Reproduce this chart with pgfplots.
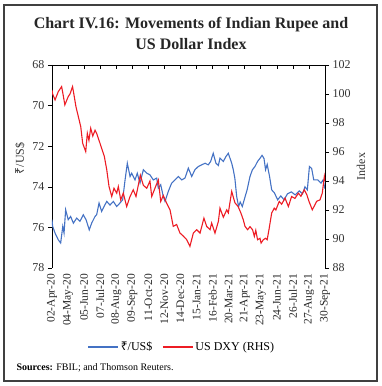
\documentclass[border=0pt]{standalone}
\usepackage{pgfplots}
\pgfplotsset{compat=1.18}
\usepackage{fontspec}
\setmainfont{Liberation Serif}
\newfontfamily\rupeefont{Noto Sans}
\newcommand{\rupee}{{\rupeefont ₹}}
\definecolor{inrblue}{RGB}{68,114,196}
\definecolor{dxyred}{RGB}{237,28,36}
\pgfplotstableread{
x y
0.00 75.62
0.04 75.95
0.19 76.28
0.39 76.61
0.54 76.77
0.67 75.95
0.75 76.28
0.85 75.13
1.01 75.62
1.16 75.46
1.33 75.79
1.54 75.54
1.74 75.70
1.95 75.38
2.12 75.62
2.32 76.12
2.47 75.79
2.68 75.46
2.78 75.38
2.93 74.80
3.09 75.21
3.24 74.97
3.41 74.72
3.61 74.90
3.82 74.72
4.03 74.97
4.23 74.80
4.40 74.64
4.55 73.66
4.69 72.84
4.86 73.49
4.96 73.33
5.17 73.66
5.31 73.33
5.48 73.82
5.69 73.16
5.90 73.33
6.10 73.41
6.31 73.66
6.52 73.57
6.62 74.07
6.77 73.90
6.93 74.48
7.04 74.72
7.24 74.23
7.45 73.82
7.66 73.66
7.87 73.49
8.08 73.66
8.28 73.57
8.49 73.08
8.70 73.49
8.90 73.16
9.11 73.00
9.32 72.92
9.53 72.84
9.73 72.92
9.88 72.75
10.04 72.35
10.21 72.84
10.36 72.95
10.46 72.59
10.67 72.75
10.83 72.51
10.98 72.35
11.19 72.84
11.29 73.16
11.39 73.60
11.50 74.48
11.62 74.97
11.72 74.75
11.85 74.97
12.02 74.50
12.15 74.15
12.33 73.49
12.48 73.16
12.64 73.00
12.80 72.75
12.95 72.60
13.08 72.45
13.20 72.60
13.30 73.16
13.40 72.90
13.55 73.50
13.68 74.15
13.85 74.30
14.05 74.64
14.25 74.45
14.45 74.64
14.66 74.35
14.90 74.25
15.15 74.40
15.40 74.20
15.60 74.35
15.75 74.00
15.90 74.15
16.03 73.00
16.17 73.10
16.30 73.66
16.55 73.66
16.75 73.82
16.88 73.66
17.00 74.10
}\inrtable
\pgfplotstableread{
x y
0.00 100.28
0.04 100.00
0.19 99.59
0.39 100.16
0.60 100.51
0.70 99.90
0.80 99.25
1.01 99.82
1.12 100.00
1.28 100.51
1.36 100.00
1.49 99.13
1.64 98.44
1.79 97.75
1.91 96.60
2.10 96.03
2.20 97.29
2.30 96.80
2.41 97.64
2.54 97.10
2.68 97.50
2.78 97.29
2.99 96.60
3.26 95.69
3.41 94.77
3.55 93.62
3.72 92.93
3.86 93.50
4.03 93.16
4.13 93.62
4.28 92.70
4.44 93.16
4.65 92.24
4.86 92.93
5.06 93.39
5.23 92.93
5.50 94.40
5.69 93.70
5.90 93.50
6.10 94.00
6.21 92.93
6.41 93.50
6.62 94.08
6.77 92.59
6.93 93.00
7.14 92.47
7.35 92.01
7.55 90.87
7.76 91.00
7.97 90.41
8.18 90.20
8.39 89.95
8.59 89.49
8.80 90.41
9.01 90.64
9.22 90.41
9.46 91.44
9.63 90.87
9.84 90.64
9.94 91.10
10.15 90.41
10.36 91.21
10.46 92.13
10.67 91.50
10.88 92.01
10.98 91.80
11.19 93.28
11.39 92.50
11.59 92.24
11.76 91.80
11.91 91.33
12.02 90.87
12.18 90.64
12.33 90.85
12.49 90.64
12.60 90.18
12.69 90.60
12.80 89.95
12.95 90.05
13.02 89.72
13.16 89.95
13.30 90.05
13.40 89.95
13.51 90.64
13.68 91.79
13.84 92.13
13.94 92.00
14.15 92.59
14.30 92.40
14.51 92.82
14.72 92.24
14.92 92.93
15.13 92.80
15.34 93.16
15.50 92.95
15.71 93.39
15.87 93.05
16.00 92.60
16.21 92.01
16.48 92.60
16.69 92.70
16.83 93.16
16.96 94.31
17.00 94.00
}\dxytable
\begin{document}
\begin{tikzpicture}[x=1pt,y=1pt]
\path[use as bounding box] (0,0) rectangle (382,386);
\draw[black!75, line width=1.2pt] (4,5) rectangle (377,381);
\node[align=center, font=\fontsize{16}{21}\selectfont\bfseries, text=black!85] at (191,353)
  {Chart IV.16: Movements of Indian Rupee and\\US Dollar Index};
\node[anchor=west, font=\fontsize{10}{12}\selectfont] at (13,18)
  {\textbf{Sources:} FBIL; and Thomson Reuters.};
\begin{axis}[
  at={(52pt,118pt)}, anchor=south west,
  scale only axis, width=273pt, height=203pt,
  xmin=0, xmax=17, ymin=68, ymax=78, y dir=reverse,
  axis x line*=bottom, axis y line*=left,
  x axis line style={draw=none},
  xtick={0,...,17},
  xticklabels={02-Apr-20,04-May-20,05-Jun-20,07-Jul-20,08-Aug-20,09-Sep-20,11-Oct-20,12-Nov-20,14-Dec-20,15-Jan-21,16-Feb-21,20-Mar-21,21-Apr-21,23-May-21,24-Jun-21,26-Jul-21,27-Aug-21,30-Sep-21},
  xticklabel style={rotate=90, anchor=east, font=\fontsize{11.5}{13}\selectfont, inner sep=2pt, text=black!85},
  major x tick style={draw=none},
  ytick={68,70,...,78},
  yticklabel style={font=\fontsize{12}{14}\selectfont, text=black!80},
  y tick style={black, line width=0.6pt},
  y axis line style={line width=0.6pt, -},
  tick align=outside, major tick length=4pt,
  /pgf/number format/assume math mode=true,
  ylabel={\rupee/US\$},
  ylabel style={at={(axis description cs:-0.117,0.54)}, anchor=center, font=\fontsize{12}{14}\selectfont, text=black!80},
]
\addplot[inrblue, line width=1.1pt] table[x=x,y=y] {\inrtable};
\end{axis}
\begin{axis}[
  at={(52pt,118pt)}, anchor=south west,
  scale only axis, width=273pt, height=203pt,
  xmin=0, xmax=17, ymin=88, ymax=102,
  axis x line*=top, axis y line*=right,
  xtick={0,...,17}, xticklabels={},
  x tick style={black, line width=0.6pt},
  x axis line style={line width=0.6pt, -},
  y axis line style={line width=0.6pt, -},
  y tick style={black, line width=0.6pt},
  xtick align=inside, ytick align=outside, major tick length=4pt,
  ytick={88,90,...,102},
  yticklabel style={font=\fontsize{12}{14}\selectfont, text=black!80},
  /pgf/number format/assume math mode=true,
  ylabel={Index},
  ylabel style={at={(axis description cs:1.132,0.50)}, anchor=center, font=\fontsize{12}{14}\selectfont, text=black!80},
  legend style={at={(axis description cs:0.476,-0.389)}, anchor=center, draw=none, fill=none,
    legend columns=2, font=\fontsize{12}{14}\selectfont,
    /tikz/every even column/.append style={column sep=8pt}},
  legend image code/.code={\draw[#1] (0pt,0pt) -- (30pt,0pt);},
]
\addlegendimage{inrblue, line width=1.1pt}
\addlegendentry{\rupee/US\$}
\addplot[dxyred, line width=1.1pt] table[x=x,y=y] {\dxytable};
\addlegendentry{US DXY (RHS)}
\end{axis}
\end{tikzpicture}
\end{document}
